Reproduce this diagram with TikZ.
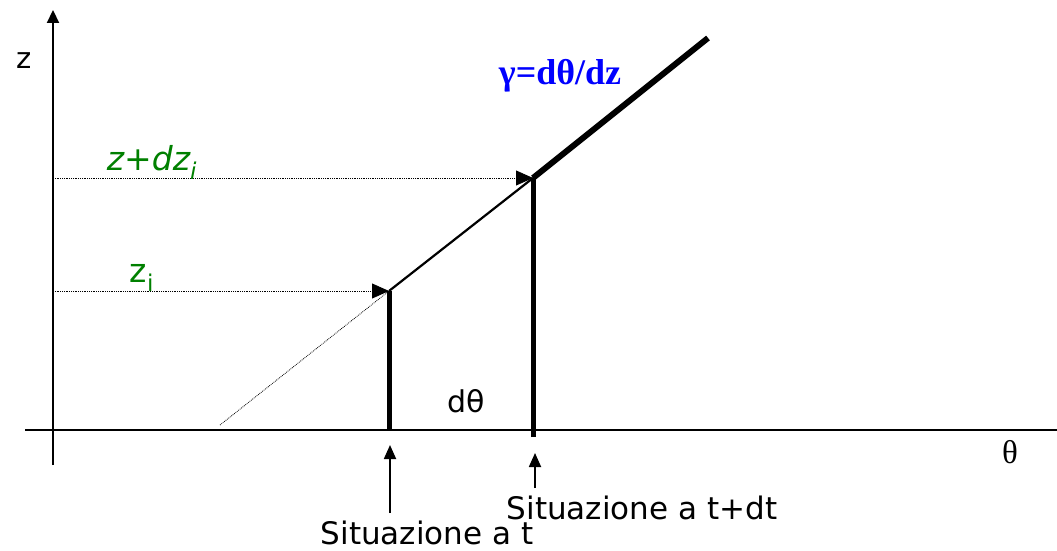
\documentclass[tikz,border=0pt]{standalone}
\usepackage{fontspec}
\setmainfont{DejaVu Sans}
\newfontfamily\timesfam{Liberation Serif}
\usetikzlibrary{arrows.meta}
\definecolor{labgreen}{RGB}{0,128,0}
\definecolor{labblue}{RGB}{0,0,255}
\tikzset{
  lab/.style={anchor=center,inner sep=1pt},
  guide/.style={densely dotted,line width=.8pt},
  marker/.style={-{Triangle[length=17pt,width=15pt]}},
  pointer/.style={line width=1.8pt,-{Triangle[length=14pt,width=12pt]}}
}
\begin{document}
\begin{tikzpicture}[x=1pt,y=-1pt,line width=2.2pt]
\path[use as bounding box] (0,0) rectangle (1057,551);
\coordinate (oy) at (53,465);
\coordinate (ytop) at (53,10);
\coordinate (ox) at (25,430);
\coordinate (xend) at (1057,430);
\coordinate (zi) at (53,291);
\coordinate (zdz) at (53,178);
\coordinate (pA) at (389,291);
\coordinate (pB) at (533,178);
\coordinate (low) at (220,425);
\coordinate (high) at (708,38);
\coordinate (footA) at (389,430);
\coordinate (footB) at (533,437);
\coordinate (tipA) at (390,445);
\coordinate (tailA) at (390,513);
\coordinate (tipB) at (535,453);
\coordinate (tailB) at (535,488);
\draw[-{Triangle[length=13pt,width=12pt]}] (oy) -- (ytop);
\draw (ox) -- (xend);
\draw[guide] (low) -- (pA);
\draw[guide,marker] (zdz) -- (pB);
\draw[guide,marker] (zi) -- (pA);
\draw (pA) -- (pB);
\draw[line width=6pt] (pB) -- (high);
\draw[line width=5pt] (footA) -- (pA);
\draw[line width=5pt] (footB) -- (pB);
\node[lab,font=\fontsize{29}{34}\selectfont] (zlab) at (24,61) {z};
\node[lab,font=\fontsize{33}{38}\selectfont\timesfam] (thetalab) at (1010,452) {θ};
\node[lab,text=labgreen,font=\fontsize{33}{38}\selectfont\itshape] (zdzlab) at (152,162) {z+dz\textsubscript{i}};
\node[lab,text=labgreen,font=\fontsize{33}{38}\selectfont] (zilab) at (142,278) {z\textsubscript{i}};
\node[lab,font=\fontsize{30}{35}\selectfont] (dthlab) at (466,401) {dθ};
\node[lab,text=labblue,font=\fontsize{36}{42}\selectfont\timesfam\bfseries] (gamlab) at (560,76) {γ=dθ/dz};
\node[anchor=base,inner sep=0pt,text depth=0pt,font=\fontsize{31}{36}\selectfont] (sitA) at (427,544) {Situazione a t};
\node[anchor=base,inner sep=0pt,text depth=0pt,font=\fontsize{31}{36}\selectfont] (sitB) at (642,519) {Situazione a t+dt};
\draw[pointer] (tailA) -- (tipA);
\draw[pointer] (tailB) -- (tipB);
\end{tikzpicture}
\end{document}
